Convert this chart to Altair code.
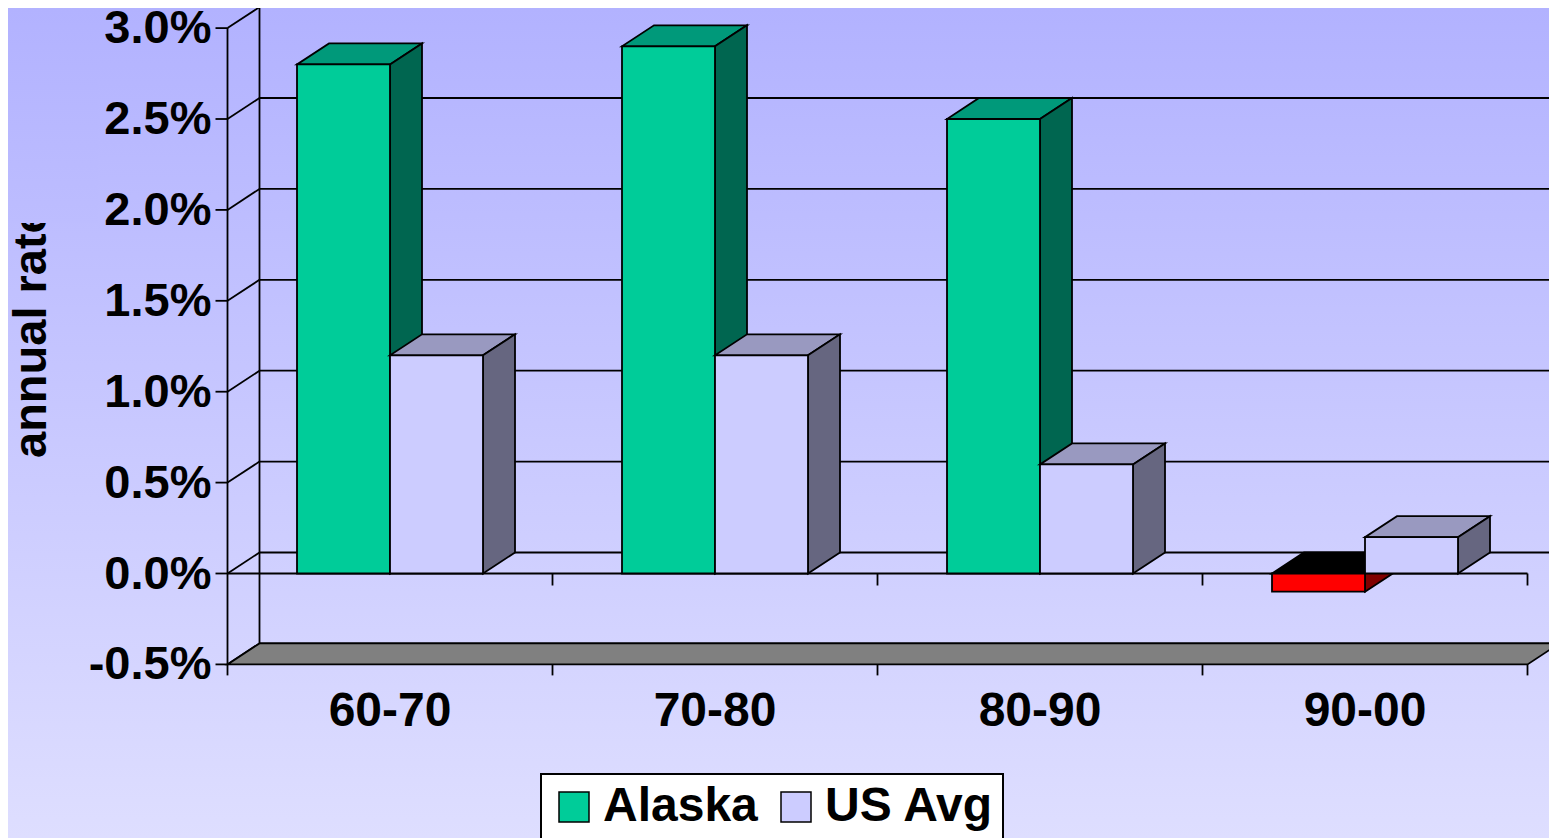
import altair as alt
import pandas as pd

# ---------------- data ----------------
categories = ["60-70", "70-80", "80-90", "90-00"]
series = ["Alaska", "US Avg"]
alaska = [2.8, 2.9, 2.5, -0.1]
us_avg = [1.2, 1.2, 0.6, 0.2]
y_ticks = [-0.5, 0.0, 0.5, 1.0, 1.5, 2.0, 2.5, 3.0]
y_tick_labels = ["-0.5%", "0.0%", "0.5%", "1.0%", "1.5%", "2.0%", "2.5%", "3.0%"]
y_title = "annual rate"

# ---------------- geometry / style ----------------
W, H = 1541, 830
FONT = "Liberation Sans"
FS_Y = 47
FS_X = 48
FS_LEG = 48
FS_T = 47
PX_CAT = 325.0      # pixels per category
PX_PCT = 181.8      # pixels per 1 %
X_ORIGIN = 219.5    # canvas x of category axis start
Y_ORIGIN = 565.5    # canvas y of 0 %
DX = 32 / PX_CAT    # 3-D depth offset (x)
DY = 21 / PX_PCT    # 3-D depth offset (y)
BAR_W = 93 / PX_CAT
FLOOR = y_ticks[0]
TOP = y_ticks[-1]
NCAT = len(categories)
LW = 1.8

BG_TOP = (178, 178, 255)
BG_BOT = (222, 222, 255)


def hexc(c):
    return "#%02x%02x%02x" % tuple(int(round(v)) for v in c)


def mix(a, b, t):
    return tuple(a[i] + (b[i] - a[i]) * t for i in range(3))


face_colors = {
    "Alaska": {"front": "#00CC99", "top": "#00997A", "side": "#006650"},
    "US Avg": {"front": "#CCCCFF", "top": "#9999C0", "side": "#666680"},
    "neg": {"front": "#FF0000", "top": "#000000", "side": "#800000"},
}

xs = alt.Scale(domain=[-X_ORIGIN / PX_CAT, (W - X_ORIGIN) / PX_CAT], range=[0, W], nice=False, zero=False)
ys = alt.Scale(domain=[(Y_ORIGIN - H) / PX_PCT, Y_ORIGIN / PX_PCT], range=[H, 0], nice=False, zero=False)

# ---------------- bars table ----------------
rows = []
for ci, cat in enumerate(categories):
    for si, (s, vals) in enumerate(zip(series, [alaska, us_avg])):
        v = vals[ci]
        x0 = ci + 0.5 + (si - 1) * BAR_W
        rows.append(dict(cat=cat, series=s, v=v, base=0.0, x0=x0, x1=x0 + BAR_W,
                         style=("neg" if v < 0 else s)))
bars = pd.DataFrame(rows)

# 3-D faces as areas (x increasing, y..y2 at each x)
face_rows = []
for _, b in bars.iterrows():
    col = face_colors[b["style"]]
    lo, hi = min(0.0, b["v"]), max(0.0, b["v"])
    x0, x1 = b["x0"], b["x1"]
    top_pts = [(x0, hi, hi), (x0 + DX, hi, hi + DY), (x1, hi, hi + DY), (x1 + DX, hi + DY, hi + DY)]
    for (x, y, y2) in top_pts:
        face_rows.append(dict(series=b["series"], fid=f"{b['cat']}|{b['series']}|top",
                              x=x, y=y, y2=y2, color=col["top"]))
    side_pts = [(x1, lo, hi), (x1 + DX, lo + DY, hi + DY)]
    for (x, y, y2) in side_pts:
        face_rows.append(dict(series=b["series"], fid=f"{b['cat']}|{b['series']}|side",
                              x=x, y=y, y2=y2, color=col["side"]))
faces = pd.DataFrame(face_rows)

# ---------------- frame segments ----------------
seg = []
for v in y_ticks:
    seg.append(dict(x=DX, x2=NCAT + DX, y=v + DY, y2=v + DY))          # back wall grid
    seg.append(dict(x=0.0, x2=DX, y=v, y2=v + DY))                       # side wall diagonal
    seg.append(dict(x=-12 / PX_CAT, x2=0.0, y=v, y2=v))                  # y tick
seg.append(dict(x=0.0, x2=0.0, y=FLOOR, y2=TOP))                         # front axis
seg.append(dict(x=DX, x2=DX, y=FLOOR + DY, y2=TOP + DY))                 # back wall edge
seg.append(dict(x=0.0, x2=float(NCAT), y=0.0, y2=0.0))                   # zero line
for i in range(1, NCAT + 1):
    seg.append(dict(x=float(i), x2=float(i), y=0.0, y2=-12 / PX_PCT))
for i in range(0, NCAT + 1):
    seg.append(dict(x=float(i), x2=float(i), y=FLOOR, y2=FLOOR - 11 / PX_PCT))
segs = pd.DataFrame(seg)

floor_pts = [(0.0, FLOOR, FLOOR), (DX, FLOOR, FLOOR + DY), (float(NCAT), FLOOR, FLOOR + DY),
             (NCAT + DX, FLOOR + DY, FLOOR + DY)]
floor = pd.DataFrame([dict(x=x, y=y, y2=y2) for (x, y, y2) in floor_pts])

ylab = pd.DataFrame({"v": y_ticks, "label": y_tick_labels, "u": 0.0})
xlab = pd.DataFrame({"cat": categories, "u": [i + 0.5 for i in range(NCAT)], "v": FLOOR})

# ---------------- layers ----------------
bg = alt.Chart(pd.DataFrame({"k": [0]})).mark_rect(
    fill={"gradient": "linear", "x1": 0, "y1": 0, "x2": 0, "y2": 1,
          "stops": [{"offset": 0, "color": hexc(BG_TOP)}, {"offset": 1, "color": hexc(BG_BOT)}]}
).encode(x=alt.value(0), x2=alt.value(W), y=alt.value(0), y2=alt.value(H))

frame = alt.Chart(segs).mark_rule(color="black", strokeWidth=LW).encode(
    x=alt.X("x:Q", scale=xs, axis=None), x2="x2:Q",
    y=alt.Y("y:Q", scale=ys, axis=None), y2="y2:Q")

floor_layer = alt.Chart(floor).mark_area(
    fill="#808080", stroke="black", strokeWidth=LW, interpolate="linear", orient="vertical", fillOpacity=1
).encode(x=alt.X("x:Q", scale=xs, axis=None), y=alt.Y("y:Q", scale=ys, axis=None, stack=None),
         y2="y2:Q")


def faces_layer(s):
    d = faces[faces.series == s]
    return alt.Chart(d).mark_area(
        stroke="black", strokeWidth=LW, interpolate="linear", orient="vertical", fillOpacity=1
    ).encode(
        x=alt.X("x:Q", scale=xs, axis=None),
        y=alt.Y("y:Q", scale=ys, axis=None, stack=None),
        y2="y2:Q",
        fill=alt.Fill("color:N", scale=None),
        detail="fid:N",
    )


legend = alt.Legend(
    title=None, orient="none", legendX=533, legendY=766, direction="horizontal",
    fillColor="white", strokeColor="black", padding=9,
    symbolType="square", symbolSize=900, symbolStrokeColor="black", symbolStrokeWidth=1.5,
    symbolOpacity=1, labelFont=FONT, labelFontSize=FS_LEG, labelFontWeight="bold", labelColor="black",
    labelOffset=5, columnPadding=14, labelLimit=400,
)
fill_scale = alt.Scale(domain=series, range=[face_colors["Alaska"]["front"], face_colors["US Avg"]["front"]])


def front_layer(s):
    d = bars[(bars.series == s) & (bars["style"] == s)]
    return alt.Chart(d).mark_rect(stroke="black", strokeWidth=LW).encode(
        x=alt.X("x0:Q", scale=xs, axis=None), x2="x1:Q",
        y=alt.Y("base:Q", scale=ys, axis=None), y2="v:Q",
        fill=alt.Fill("series:N", scale=fill_scale, legend=legend),
    )


neg_front = alt.Chart(bars[bars["style"] == "neg"]).mark_rect(
    fill=face_colors["neg"]["front"], stroke="black", strokeWidth=LW
).encode(x=alt.X("x0:Q", scale=xs, axis=None), x2="x1:Q",
         y=alt.Y("base:Q", scale=ys, axis=None), y2="v:Q")

ylabels = alt.Chart(ylab).mark_text(
    font=FONT, fontSize=FS_Y, fontWeight="bold", color="black", align="right", baseline="alphabetic",
    dx=-16, dy=15
).encode(x=alt.X("u:Q", scale=xs, axis=None), y=alt.Y("v:Q", scale=ys, axis=None), text="label:N")

xlabels = alt.Chart(xlab).mark_text(
    font=FONT, fontSize=FS_X, fontWeight="bold", color="black", align="center", baseline="alphabetic", dy=62
).encode(x=alt.X("u:Q", scale=xs, axis=None), y=alt.Y("v:Q", scale=ys, axis=None), text="cat:N")

title = alt.Chart(pd.DataFrame({"t": [y_title]})).mark_text(
    font=FONT, fontSize=FS_T, fontWeight="bold", color="black", align="left", baseline="alphabetic", angle=270
).encode(x=alt.value(38), y=alt.value(450), text="t:N")

COVER_H = 215
cover = alt.Chart(pd.DataFrame({"k": [0]})).mark_rect(
    fill={"gradient": "linear", "x1": 0, "y1": 0, "x2": 0, "y2": 1,
          "stops": [{"offset": 0, "color": hexc(BG_TOP)},
                    {"offset": 1, "color": hexc(mix(BG_TOP, BG_BOT, COVER_H / H))}]}
).encode(x=alt.value(0), x2=alt.value(90), y=alt.value(0), y2=alt.value(COVER_H))

chart = alt.layer(
    bg, frame, floor_layer,
    faces_layer("Alaska"), front_layer("Alaska"), neg_front,
    faces_layer("US Avg"), front_layer("US Avg"),
    ylabels, xlabels, title, cover,
).properties(
    width=W, height=H, padding=0, autosize=alt.AutoSizeParams(type="none")
).configure_view(stroke=None).configure_legend(strokeWidth=2)

chart.save("out.html", embed_options={"renderer": "svg", "actions": False})
